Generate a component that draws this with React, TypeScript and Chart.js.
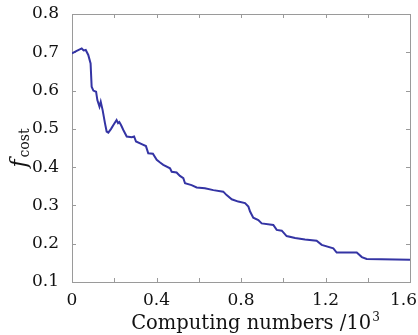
import React, { useEffect, useRef } from "react";
import { Chart, registerables } from "chart.js";

Chart.register(...registerables);

const computingNumbers: number[] = [
  0.0, 0.02, 0.046, 0.055, 0.065, 0.077, 0.088, 0.093, 0.101, 0.114, 0.12, 0.13, 0.136, 0.145,
  0.156, 0.164, 0.172, 0.185, 0.196, 0.211, 0.218, 0.224, 0.232, 0.243, 0.259, 0.283, 0.294,
  0.303, 0.33, 0.35, 0.361, 0.383, 0.401, 0.417, 0.432, 0.464, 0.472, 0.495, 0.511, 0.527,
  0.535, 0.566, 0.59, 0.629, 0.669, 0.716, 0.732, 0.756, 0.787, 0.819, 0.835, 0.843, 0.858,
  0.882, 0.898, 0.953, 0.969, 0.993, 1.016, 1.056, 1.103, 1.158, 1.182, 1.237, 1.253, 1.348,
  1.372, 1.395, 1.6,
];
const costValues: number[] = [
  0.697, 0.703, 0.71, 0.705, 0.706, 0.693, 0.671, 0.61, 0.6, 0.597, 0.575, 0.558, 0.571, 0.549,
  0.515, 0.493, 0.49, 0.5, 0.51, 0.523, 0.515, 0.518, 0.51, 0.497, 0.48, 0.478, 0.48,
  0.467, 0.46, 0.455, 0.436, 0.435, 0.419, 0.412, 0.406, 0.397, 0.388, 0.386, 0.377, 0.371,
  0.358, 0.353, 0.347, 0.345, 0.34, 0.336, 0.327, 0.316, 0.31, 0.306, 0.297, 0.284, 0.268,
  0.262, 0.253, 0.249, 0.236, 0.234, 0.22, 0.215, 0.211, 0.208, 0.197, 0.188, 0.177, 0.177,
  0.165, 0.16, 0.158,
];
const xLabeledTicks: number[] = [0, 0.4, 0.8, 1.2, 1.6];
const xTickLabels: string[] = ["0", "0.4", "0.8", "1.2", "1.6"];
const xTitle = "Computing numbers /10";
const xTitleSup = "3";
const yTitleMain = "f";
const yTitleSub = "cost";

const FONT = "'DejaVu Serif', 'Liberation Serif', serif";

export default function App() {
  const ref = useRef<HTMLCanvasElement | null>(null);

  useEffect(() => {
    if (!ref.current) return;
    const framePlugin = {
      id: "frame",
      beforeDatasetsDraw(chart: any) {
        const { ctx, chartArea } = chart;
        const { left, right, top, bottom } = chartArea;
        ctx.save();
        ctx.strokeStyle = "#9a9a9a";
        ctx.lineWidth = 1;
        ctx.strokeRect(Math.round(left) + 0.5, Math.round(top) + 0.5, Math.round(right - left), Math.round(bottom - top));
        const tl = 4;
        const xs = chart.scales.x;
        xs.ticks.forEach((t: any) => {
          const px = Math.round(xs.getPixelForValue(t.value)) + 0.5;
          ctx.beginPath();
          ctx.moveTo(px, bottom);
          ctx.lineTo(px, bottom - tl);
          ctx.moveTo(px, top);
          ctx.lineTo(px, top + tl);
          ctx.stroke();
        });
        const ys = chart.scales.y;
        ys.ticks.forEach((t: any) => {
          const py = Math.round(ys.getPixelForValue(t.value)) + 0.5;
          ctx.beginPath();
          ctx.moveTo(left, py);
          ctx.lineTo(left + tl, py);
          ctx.moveTo(right, py);
          ctx.lineTo(right - tl, py);
          ctx.stroke();
        });
        ctx.restore();
      },
      afterDraw(chart: any) {
        const { ctx, chartArea } = chart;
        const xs = chart.scales.x;
        ctx.save();
        ctx.fillStyle = "#111";
        // x tick labels
        ctx.font = `17px ${FONT}`;
        ctx.textBaseline = "alphabetic";
        ctx.textAlign = "left";
        xLabeledTicks.forEach((v, i) => {
          const w = ctx.measureText(xTickLabels[i]).width;
          let x = xs.getPixelForValue(v) - w / 2;
          if (x + w > 417) x = 417 - w;
          ctx.fillText(xTickLabels[i], x, 305);
        });
        // x title
        ctx.font = `19.5px ${FONT}`;
        const mainW = ctx.measureText(xTitle).width;
        ctx.font = `12px ${FONT}`;
        const supW = ctx.measureText(xTitleSup).width;
        const cx = 255;
        const sx = cx - (mainW + supW) / 2;
        ctx.font = `19.5px ${FONT}`;
        ctx.fillText(xTitle, sx, 329);
        ctx.font = `12px ${FONT}`;
        ctx.fillText(xTitleSup, sx + mainW + 1, 321);
        // y title
        const cy = (chartArea.top + chartArea.bottom) / 2;
        ctx.translate(26, cy);
        ctx.rotate(-Math.PI / 2);
        ctx.font = `italic 22px ${FONT}`;
        const fW = ctx.measureText(yTitleMain).width;
        ctx.font = `14px ${FONT}`;
        const cW = ctx.measureText(yTitleSub).width;
        const start = -(fW + cW + 2) / 2;
        ctx.font = `italic 22px ${FONT}`;
        ctx.fillText(yTitleMain, start, 0);
        ctx.font = `14px ${FONT}`;
        ctx.fillText(yTitleSub, start + fW + 2, 3);
        ctx.restore();
      },
    };

    const chart = new Chart(ref.current, {
      type: "line",
      data: {
        datasets: [
          {
            data: computingNumbers.map((x, i) => ({ x, y: costValues[i] })),
            borderColor: "#3434a4",
            borderWidth: 2,
            pointRadius: 0,
            tension: 0,
            fill: false,
          },
        ],
      },
      options: {
        animation: false,
        responsive: false,
        layout: { padding: { left: 0, right: 8, top: 14, bottom: 0 } },
        plugins: { legend: { display: false }, tooltip: { enabled: false } },
        scales: {
          x: {
            type: "linear",
            min: 0,
            max: 1.6,
            grid: { display: false },
            border: { display: false },
            ticks: {
              stepSize: 0.2,
              autoSkip: false,
              maxRotation: 0,
              display: false,
            },
            afterFit: (s: any) => {
              s.height = 53;
              s.paddingLeft = 0;
              s.paddingRight = 0;
            },
          },
          y: {
            min: 0.1,
            max: 0.8,
            grid: { display: false },
            border: { display: false },
            ticks: {
              stepSize: 0.1,
              padding: 5,
              color: "#111",
              font: { family: FONT, size: 17 },
              callback: (v: any) => Number(v).toFixed(1),
            },
            afterFit: (s: any) => {
              s.width = 72;
              s.paddingTop = 0;
              s.paddingBottom = 0;
            },
          },
        },
      },
      plugins: [framePlugin],
    });
    return () => chart.destroy();
  }, []);

  return (
    <div style={{ position: "fixed", left: 0, top: 0, width: 418, height: 335, background: "#fff" }}>
      <canvas ref={ref} width={418} height={335} style={{ width: 418, height: 335, display: "block" }} />
    </div>
  );
}
